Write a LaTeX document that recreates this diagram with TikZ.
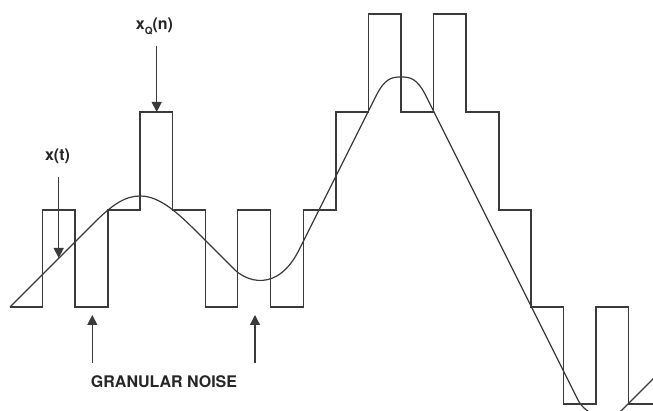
\documentclass[tikz,border=0pt]{standalone}
\usepackage{fontspec}
\setsansfont{TeX Gyre Heros}
\usetikzlibrary{arrows.meta}
\definecolor{ink}{HTML}{3A3A3A}
\definecolor{txt}{HTML}{262626}
\begin{document}
\begin{tikzpicture}[x=1pt,y=-1pt,
  wave/.style={draw=ink,line width=1.2pt,line join=miter},
  pointer/.style={draw=ink,line width=1.2pt,-{Triangle[length=10pt,width=10pt]}},
  lbl/.style={font=\sffamily\bfseries\fontsize{16}{18}\selectfont,text=txt,inner sep=0pt,anchor=base}]
\useasboundingbox (0,0) rectangle (653,411);
\fill[white] (0,0) rectangle (653,411);
% quantized staircase x_Q(n)
\draw[wave] (10,307) -- (42.7,307) -- (42.7,210) -- (75,210) -- (75,307) -- (108,307) -- (108,210)
  -- (140,210) -- (140,112) -- (172.7,112) -- (172.7,210) -- (205.7,210) -- (205.7,307)
  -- (237.7,307) -- (237.7,210) -- (270.7,210) -- (270.7,307) -- (303.3,307) -- (303.3,210)
  -- (336,210) -- (336,112) -- (368.3,112) -- (368.3,14) -- (401,14) -- (401,112)
  -- (433.3,112) -- (433.3,14) -- (466,14) -- (466,112) -- (499,112) -- (499,210)
  -- (531,210) -- (531,307) -- (563.3,307) -- (563.3,404) -- (596,404) -- (596,307)
  -- (628.7,307) -- (628.7,404) -- (653,404);
% analog signal x(t)
\begin{scope}
\clip (0,0) rectangle (653,411);
\draw[wave] (10,307) -- (95,222) .. controls (112,205) and (125,196) .. (140,196)
  .. controls (160,196) and (178,213) .. (200,235) -- (232,267)
  .. controls (245,282) and (278,294) .. (300,248) -- (376,96)
  .. controls (385,78) and (392,77) .. (401,77)
  .. controls (410,77) and (417,78) .. (426,96) -- (578,400)
  .. controls (586,416) and (610,422) .. (618,414) -- (656,376);
\end{scope}
% labels
\node[lbl] (xt) at (57.5,160.7) {x(t)};
\node[lbl] (xq) at (154.5,30) {x\raisebox{-0.3em}{\fontsize{10}{12}\selectfont Q}(n)};
\node[lbl] (gn) at (164,387.7) {GRANULAR NOISE};
% pointers
\coordinate (xtTail) at (58.7,177);
\coordinate (xtTip) at (58.7,258);
\coordinate (xqTail) at (156.7,46);
\coordinate (xqTip) at (156.7,112);
\coordinate (gnTailA) at (92.3,363);
\coordinate (gnTipA) at (92.3,315);
\coordinate (gnTailB) at (255,363);
\coordinate (gnTipB) at (255,315);
\draw[pointer] (xtTail) -- (xtTip);
\draw[pointer] (xqTail) -- (xqTip);
\draw[pointer] (gnTailA) -- (gnTipA);
\draw[pointer] (gnTailB) -- (gnTipB);
\end{tikzpicture}
\end{document}
